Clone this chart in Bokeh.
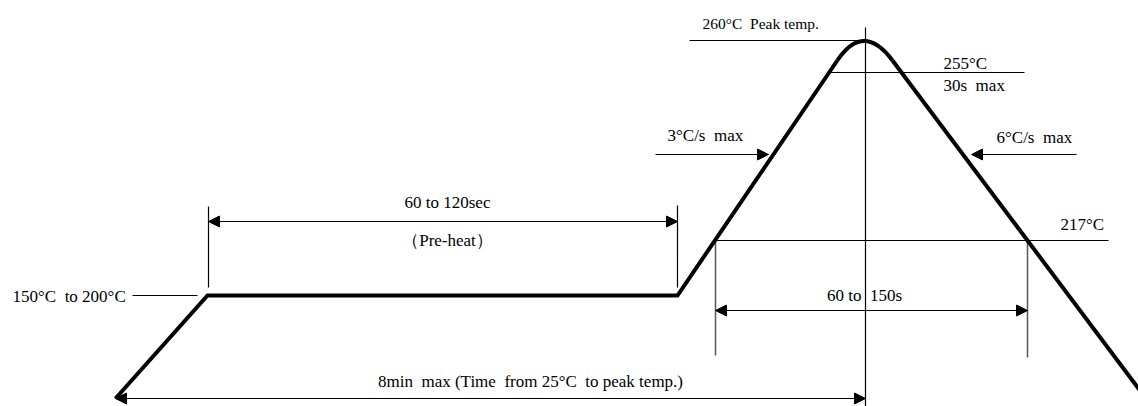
from bokeh.plotting import figure
from bokeh.models import Range1d, Arrow, NormalHead, ColumnDataSource
from bokeh.core.properties import value
from bokeh.embed import file_html
from bokeh.resources import INLINE

# ---- Schematic reflow profile (diagram units: x = time axis, y = temperature axis, downwards) ----
ramp_x = [115, 207, 677, 836.8]          # start 25°C -> soak start -> soak end -> top of 3°C/s ramp
ramp_y = [398, 295, 295, 60]
peak_x0, peak_y0 = 836.8, 60             # rounded peak (quadratic curve)
peak_cx, peak_cy = 863, 21
peak_x1, peak_y1 = 892, 60
cool_x = [892, 1150]                     # 6°C/s cooling slope
cool_y = [60, 404]

# ---- Reference / dimension lines ----
ref_x0 = [689, 865, 827, 715, 132, 208, 677]
ref_y0 = [40, 27, 72, 240, 295, 206, 205]
ref_x1 = [865, 865, 1024, 1108, 197, 208, 677]
ref_y1 = [40, 406, 72, 240, 295, 287, 287]

tal_x0 = [715, 1027]                     # time-above-liquidus extension lines
tal_y0 = [240, 240]
tal_x1 = [715, 1027]
tal_y1 = [355, 357]

# double-headed dimension arrows
dim_x0 = [208, 715, 115]
dim_y0 = [221, 310, 398]
dim_x1 = [677, 1027, 865]
dim_y1 = [221, 310, 398]

# single-headed pointer arrows (3°C/s and 6°C/s)
ptr_x0 = [655, 1076]
ptr_y0 = [154, 154]
ptr_x1 = [768, 971]
ptr_y1 = [154, 154]

NB = "\u00a0"
# ---- Labels ----
left_text = ["255°C", "30s" + NB + " max", "3°C/s" + NB + " max", "6°C/s" + NB + " max", "217°C",
             "150°C" + NB + " to 200°C"]
left_x = [943, 943, 667, 996, 1060, 12]
left_y = [63, 85, 135, 137, 224, 296]

center_text = ["60 to 120sec", "（Pre-heat）", "60 to" + NB + " 150s",
               "8min" + NB + " max (Time" + NB + " from 25°C" + NB + " to peak temp.)"]
center_x = [447, 447, 864, 530]
center_y = [202, 240, 295, 381]

peak_text = ["260°C" + NB + " Peak temp."]
peak_tx = [702]
peak_ty = [23]

FONT = value("Liberation Serif")

p = figure(width=1138, height=406, x_range=Range1d(0, 1138), y_range=Range1d(406, 0),
           output_backend="svg", toolbar_location=None, x_axis_type=None, y_axis_type=None,
           min_border=0)
p.outline_line_color = None
p.background_fill_color = "white"
p.border_fill_color = "white"

# thin reference lines
p.segment(x0=ref_x0, y0=ref_y0, x1=ref_x1, y1=ref_y1, line_color="black", line_width=1.2)
p.segment(x0=tal_x0, y0=tal_y0, x1=tal_x1, y1=tal_y1, line_color="#555555", line_width=1.5)

# arrows
dim_src = ColumnDataSource(dict(x0=dim_x0, y0=dim_y0, x1=dim_x1, y1=dim_y1))
p.add_layout(Arrow(x_start="x0", y_start="y0", x_end="x1", y_end="y1", source=dim_src,
                   line_color="black", line_width=1.2,
                   start=NormalHead(size=11, fill_color="black", line_color="black"),
                   end=NormalHead(size=11, fill_color="black", line_color="black")))
ptr_src = ColumnDataSource(dict(x0=ptr_x0, y0=ptr_y0, x1=ptr_x1, y1=ptr_y1))
p.add_layout(Arrow(x_start="x0", y_start="y0", x_end="x1", y_end="y1", source=ptr_src,
                   line_color="black", line_width=1.2,
                   end=NormalHead(size=11, fill_color="black", line_color="black")))

# profile
p.line(ramp_x, ramp_y, line_color="black", line_width=4, line_join="miter")
p.quadratic(x0=[peak_x0], y0=[peak_y0], x1=[peak_x1], y1=[peak_y1], cx=[peak_cx], cy=[peak_cy],
            line_color="black", line_width=4)
p.line(cool_x, cool_y, line_color="black", line_width=4)

# texts
p.text(x=left_x, y=left_y, text=left_text, text_font=FONT, text_font_size="17px",
       text_align="left", text_baseline="middle", text_color="black")
p.text(x=center_x, y=center_y, text=center_text, text_font=FONT, text_font_size="17px",
       text_align="center", text_baseline="middle", text_color="black")
p.text(x=peak_tx, y=peak_ty, text=peak_text, text_font=FONT, text_font_size="15.5px",
       text_align="left", text_baseline="middle", text_color="black")

open("out.html", "w").write(file_html(p, INLINE))
